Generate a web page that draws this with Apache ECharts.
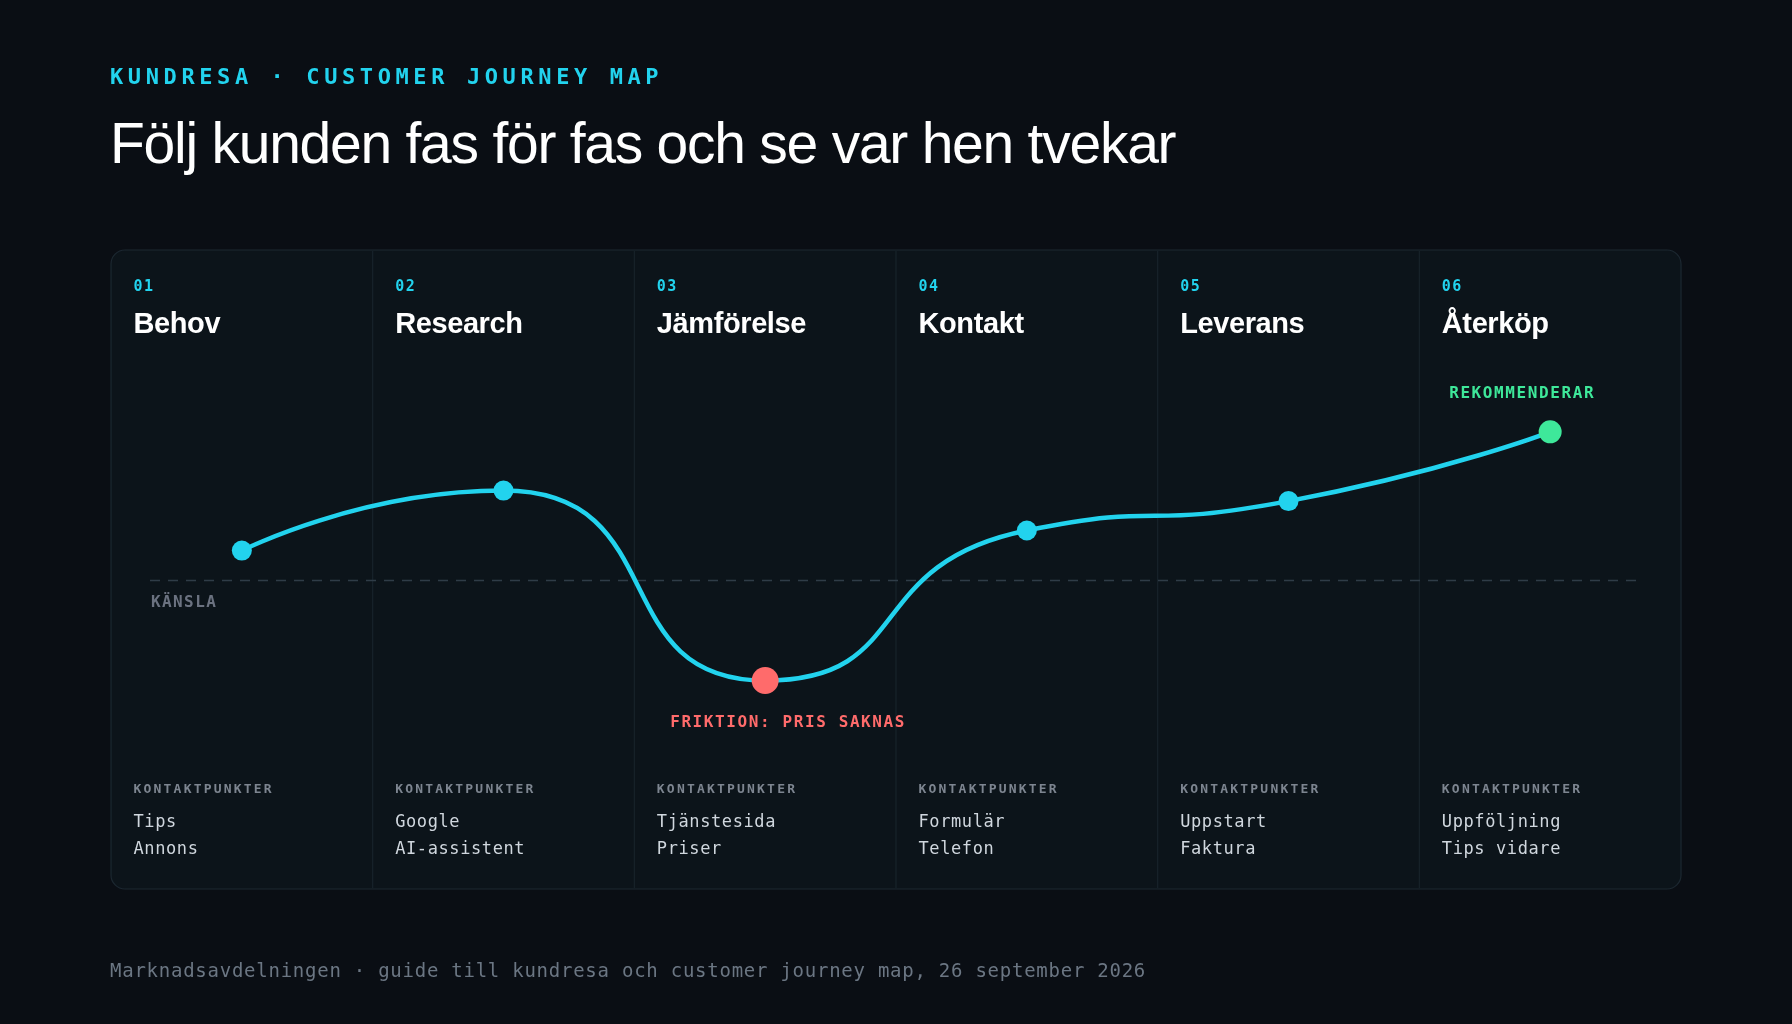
<!DOCTYPE html>
<html><head><meta charset="utf-8">
<script src="https://cdn.jsdelivr.net/npm/echarts@6/dist/echarts.min.js"></script>
<style>
html,body{margin:0;padding:0;background:#0a0e14;width:1792px;height:1024px;overflow:hidden}
#c{position:absolute;left:0;top:0;width:1792px;height:1024px}
.t{position:absolute;white-space:nowrap;pointer-events:none}
</style></head><body>
<div id="c"></div>
<div id="ov"></div>
<script>
const kicker = "KUNDRESA · CUSTOMER JOURNEY MAP";
const title = "Följ kunden fas för fas och se var hen tvekar";
const footer = "Marknadsavdelningen · guide till kundresa och customer journey map, 26 september 2026";
const numbers = ["01","02","03","04","05","06"];
const phases = ["Behov","Research","Jämförelse","Kontakt","Leverans","Återköp"];
const feeling = [1.0, 3.0, -3.33, 1.67, 2.65, 4.96];
const notes = ["", "", "FRIKTION: PRIS SAKNAS", "", "", "REKOMMENDERAR"];
const touchA = ["Tips","Google","Tjänstesida","Formulär","Uppstart","Uppföljning"];
const touchB = ["Annons","AI-assistent","Priser","Telefon","Faktura","Tips vidare"];

const PL=111, PT=250, PW=1570, PH=639, CW=PW/6;
const ov=document.getElementById('ov');
function txt(s,x,y,css){const d=document.createElement('div');d.className='t';d.textContent=s;d.style.left=x+'px';d.style.top=y+'px';d.style.cssText+=css;ov.appendChild(d);return d;}
txt(kicker,110,63,'font-family:"DejaVu Sans Mono",monospace;font-weight:bold;font-size:22px;letter-spacing:4.6px;color:#22d3ee;line-height:28px');
txt(title,110,108,'font-family:"Liberation Sans",Arial,sans-serif;font-size:57px;letter-spacing:-1.25px;color:#ffffff;line-height:70px');
txt(footer,110,958,'font-family:"DejaVu Sans Mono",monospace;font-size:19px;letter-spacing:0.75px;color:#6b7683;line-height:24px');
for(let i=0;i<6;i++){
  const x=PL+i*CW+22.5;
  txt(numbers[i],x,276,'font-family:"DejaVu Sans Mono",monospace;font-weight:bold;font-size:15px;letter-spacing:1.5px;color:#22d3ee;line-height:20px');
  txt(phases[i],x,305,'font-family:"Liberation Sans",Arial,sans-serif;font-weight:bold;font-size:29px;letter-spacing:-0.4px;color:#ffffff;line-height:36px');
  txt("KONTAKTPUNKTER",x,780,'font-family:"DejaVu Sans Mono",monospace;font-weight:bold;font-size:13px;letter-spacing:2.2px;color:#7d8590;line-height:18px');
  txt(touchA[i],x,810,'font-family:"DejaVu Sans Mono",monospace;font-size:17px;letter-spacing:0.6px;color:#d0d7de;line-height:22px');
  txt(touchB[i],x,837,'font-family:"DejaVu Sans Mono",monospace;font-size:17px;letter-spacing:0.6px;color:#d0d7de;line-height:22px');
}
txt("KÄNSLA",151,592,'font-family:"DejaVu Sans Mono",monospace;font-weight:bold;font-size:16px;letter-spacing:1.4px;color:#6b7280;line-height:20px');

const chart=echarts.init(document.getElementById('c'));
const graphics=[{type:'rect',shape:{x:PL,y:PT,width:PW,height:PH,r:14},style:{fill:'#0c141a',stroke:'#1c2831',lineWidth:1.2},z:-10}];
for(let i=1;i<6;i++){graphics.push({type:'line',shape:{x1:PL+i*CW,y1:PT+1,x2:PL+i*CW,y2:PT+PH-1},style:{stroke:'#18232b',lineWidth:1.2},z:-9});}
const data=feeling.map((v,i)=>{
  const isLow=i===2, isEnd=i===5;
  return {value:v,symbolSize:isLow?27:(isEnd?23:20),itemStyle:{color:isLow?'#ff6b6b':(isEnd?'#3ee89a':'#22d3ee')}};
});
const opt={
  backgroundColor:'transparent',
  animation:false,
  graphic:graphics,
  grid:{left:PL,width:PW,top:430.6,height:300},
  xAxis:{type:'category',data:phases,boundaryGap:true,show:false},
  yAxis:{type:'value',min:-5,max:5,show:false},
  series:[{type:'line',data:data,smooth:0.6,symbol:'circle',z:5,
    lineStyle:{color:'#22d3ee',width:4.5},itemStyle:{color:'#22d3ee'}}]
};
chart.setOption(opt);
const by=chart.convertToPixel({yAxisIndex:0},0);
graphics.push({type:'line',shape:{x1:150,y1:by,x2:1636,y2:by},style:{stroke:'#2f3c47',lineDash:[10,8],lineWidth:1.5},z:-5});
chart.setOption({graphic:graphics});
notes.forEach((n,i)=>{
  if(!n) return;
  const p=chart.convertToPixel({seriesIndex:0},[i,feeling[i]]);
  const isLow=i===2;
  const d=txt(n,0,0,'font-family:"DejaVu Sans Mono",monospace;font-weight:bold;font-size:16px;letter-spacing:1.6px;color:'+(isLow?'#ff6b6b':'#3ee89a')+';line-height:20px');
  const w=d.offsetWidth;
  d.style.left=(p[0]+(isLow?23:-28)-w/2)+'px';
  d.style.top=(p[1]+(isLow?41:-39)-10)+'px';
});
</script></body></html>
